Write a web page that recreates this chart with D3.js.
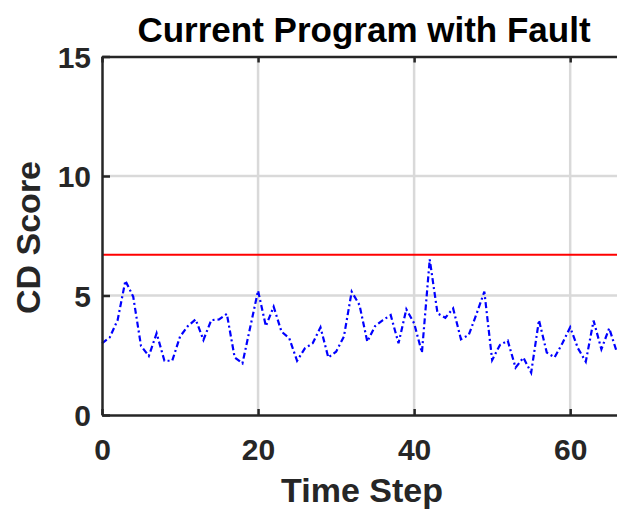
<!DOCTYPE html>
<html>
<head>
<meta charset="utf-8">
<script src="https://cdn.jsdelivr.net/npm/d3@7"></script>
<style>
  body { margin: 0; background: #fff; }
  svg text { font-family: "Liberation Sans", Arial, Helvetica, sans-serif; font-weight: bold; }
</style>
</head>
<body>
<div id="chart"></div>
<script>
// CD score per time step
const timeSteps = d3.range(0, 67);
const cdScore = [
  3.0, 3.25, 3.97, 5.62, 4.95, 2.89, 2.47, 3.42, 2.27, 2.27,
  3.28, 3.72, 4.0, 3.14, 3.97, 4.0, 4.23, 2.41, 2.16, 3.68,
  5.2, 3.72, 4.53, 3.49, 3.21, 2.27, 2.79, 3.0, 3.67, 2.41,
  2.65, 3.28, 5.16, 4.6, 3.07, 3.72, 3.97, 4.18, 3.0, 4.42,
  3.84, 2.61, 6.51, 4.25, 4.07, 4.46, 3.17, 3.35, 4.23, 5.16,
  2.3, 2.93, 3.11, 1.98, 2.4, 1.77, 3.97, 2.61, 2.41, 3.0,
  3.67, 2.79, 2.23, 3.95, 2.75, 3.63, 2.61
];
const threshold = 6.71;
const xTicks = [0, 20, 40, 60];
const yTicks = [0, 5, 10, 15];

var width = 617, height = 513;
var margin = { top: 56.5, right: 0, bottom: 98, left: 102 };

var svg = d3.select("#chart")
    .append("svg")
    .attr("width", width)
    .attr("height", height);

var x = d3.scaleLinear().domain([0, 66]).range([margin.left, 617]);
var y = d3.scaleLinear().domain([0, 15]).range([height - margin.bottom, margin.top]);

// grid
svg.append("g")
    .selectAll("line")
    .data(xTicks.filter(d => d > 0))
    .enter()
    .append("line")
    .attr("x1", d => x(d)).attr("x2", d => x(d))
    .attr("y1", y(0)).attr("y2", y(15))
    .attr("stroke", "#d9d9d9")
    .attr("stroke-width", 2.5);
svg.append("g")
    .selectAll("line")
    .data(yTicks.filter(d => d > 0 && d < 15))
    .enter()
    .append("line")
    .attr("x1", x(0)).attr("x2", x(66))
    .attr("y1", d => y(d)).attr("y2", d => y(d))
    .attr("stroke", "#d9d9d9")
    .attr("stroke-width", 2.5);

// threshold line
svg.append("line")
    .attr("x1", x(0)).attr("x2", x(66))
    .attr("y1", y(threshold)).attr("y2", y(threshold))
    .attr("stroke", "#ff0000")
    .attr("stroke-width", 2);

// score line
var line = d3.line()
    .x((d, i) => x(timeSteps[i]))
    .y(d => y(d));
svg.append("path")
    .datum(cdScore)
    .attr("d", line)
    .attr("fill", "none")
    .attr("stroke", "#0000ff")
    .attr("stroke-width", 2.2)
    .attr("stroke-dasharray", "6,3,2,3");

// axes (inward ticks, matlab style)
var xAxis = svg.append("g")
    .attr("transform", "translate(0," + y(0) + ")")
    .call(d3.axisBottom(x).tickValues(xTicks).tickSizeInner(-6).tickSizeOuter(0).tickPadding(24));
var xAxisTop = svg.append("g")
    .attr("transform", "translate(0," + y(15) + ")")
    .call(d3.axisTop(x).tickValues(xTicks).tickSizeInner(-6).tickSizeOuter(0).tickFormat(""));
var yAxis = svg.append("g")
    .attr("transform", "translate(" + x(0) + ",0)")
    .call(d3.axisLeft(y).tickValues(yTicks).tickSizeInner(-8).tickSizeOuter(0).tickPadding(11));

[xAxis, xAxisTop, yAxis].forEach(g => {
    g.select(".domain").attr("stroke", "#262626").attr("stroke-width", 2.5);
    g.selectAll(".tick line").attr("stroke", "#262626").attr("stroke-width", 2.5);
    g.selectAll(".tick text")
        .attr("fill", "#262626")
        .style("font-size", "30px")
        .style("font-family", "'Liberation Sans', Arial, sans-serif")
        .style("font-weight", "bold");
});
yAxis.selectAll(".tick text").attr("dy", "0.36em");

// title and labels
svg.append("text")
    .attr("x", 364)
    .attr("y", 42)
    .attr("text-anchor", "middle")
    .attr("fill", "#000")
    .style("font-size", "35px")
    .text("Current Program with Fault");

svg.append("text")
    .attr("x", 362)
    .attr("y", 502)
    .attr("text-anchor", "middle")
    .attr("fill", "#262626")
    .style("font-size", "34px")
    .text("Time Step");

svg.append("text")
    .attr("transform", "translate(40," + 237.5 + ")rotate(-90)")
    .attr("text-anchor", "middle")
    .attr("fill", "#262626")
    .style("font-size", "34px")
    .text("CD Score");
</script>
</body>
</html>
